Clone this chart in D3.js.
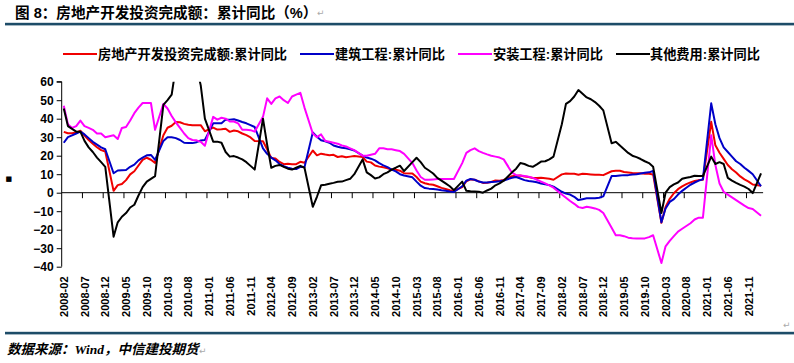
<!DOCTYPE html>
<html><head><meta charset="utf-8">
<script src="https://cdn.jsdelivr.net/npm/d3@7"></script>
<style>
html,body{margin:0;padding:0;background:#fff;}
svg{display:block;}
</style></head>
<body>
<svg id="chart" width="794" height="363"></svg>
<script>
// ---- data ----
const seriesNames = ["房地产开发投资完成额:累计同比","建筑工程:累计同比","安装工程:累计同比","其他费用:累计同比"];
const seriesColors = ["#f00000","#0000c8","#ff00ff","#000000"];
const yTicks = [60,50,40,30,20,10,0,-10,-20,-30,-40];
const tickLabels = ["2008-02","2008-07","2008-12","2009-05","2009-10","2010-03","2010-08","2011-01","2011-06","2011-11","2012-04","2012-09","2013-02","2013-07","2013-12","2014-05","2014-10","2015-03","2015-08","2016-01","2016-06","2016-11","2017-04","2017-09","2018-02","2018-07","2018-12","2019-05","2019-10","2020-03","2020-08","2021-01","2021-06","2021-11"];
// monthly categories 2008-02 .. 2022-02 (January has no release: null)
const categories = [];
for (let y = 2008; y <= 2022; y++) for (let m = 1; m <= 12; m++) {
  if ((y === 2008 && m < 2) || (y === 2022 && m > 2)) continue;
  categories.push(y + "-" + String(m).padStart(2, "0"));
}
const realEstate = [
 32.9,32.1,32.1,32.5,33.5,30.9,28.5,26.5,24.6,23.0,22.3,
 null,1.0,4.1,4.7,6.8,9.9,11.6,14.7,17.7,18.9,17.8,16.1,
 null,31.1,35.1,36.2,38.2,38.1,37.2,36.7,36.4,36.5,36.5,33.2,
 null,35.2,34.1,34.3,34.6,32.9,33.6,33.2,32.0,31.1,29.9,27.9,
 null,27.8,23.5,18.7,18.5,16.6,15.4,15.6,15.4,15.4,16.7,16.2,
 null,22.8,20.2,21.1,20.6,20.3,20.5,19.3,19.7,19.2,19.5,19.8,
 null,19.3,16.8,16.4,14.7,14.1,13.7,13.2,12.5,12.4,11.9,10.5,
 null,10.4,8.5,6.0,5.1,4.6,4.3,3.5,2.6,2.0,1.3,1.0,
 null,3.0,6.2,7.2,7.0,6.1,5.3,5.4,5.8,6.6,6.5,6.9,
 null,8.9,9.1,9.3,8.8,8.5,7.9,7.9,8.1,7.8,7.5,7.0,
 null,9.9,10.4,10.3,10.2,9.7,10.2,10.1,9.9,9.7,9.7,9.5,
 null,11.6,11.8,11.9,11.2,10.9,10.6,10.5,10.5,10.3,10.2,9.9,
 null,-16.3,-7.7,-3.3,-0.3,1.9,3.4,4.6,5.6,6.3,6.8,7.0,
 null,38.3,25.6,21.6,18.3,15.0,12.7,10.9,8.8,7.2,6.0,4.4,
 null,3.7];
const building = [
 27,30,31,32,33,31.5,29.5,27.5,26,24.5,23.5,
 null,10.5,12,12.2,12.3,14,15.2,17.5,19,20.2,20.4,17.7,
 null,28,30,30,29.5,28.5,27,26.8,26.8,27.3,28.2,28.5,
 null,37.5,37.5,37.5,39.5,39.5,39.7,39,38.2,37.5,36.5,35.5,
 null,24,21,19,17.5,15.5,14.3,13.5,13,12.8,14,13.7,
 null,32.6,30.3,28.3,27.8,27,25.5,24.8,24.3,24,23.5,22.8,
 null,20,19,18.4,17.5,16,14.8,13.8,12.5,11.5,10,9.3,
 null,8.3,6,3.8,2.5,2.2,2,1.7,1.3,1,0.6,0.4,
 null,3.5,6.5,7.4,7,6,5.5,5.5,5.8,5.9,6.2,6.6,
 null,8.1,8.5,7.7,6.8,6.3,6,5.6,5,4.5,4.1,3.3,
 null,0.5,-0.5,-1,-2.2,-4,-3.5,-3,-3,-3,-2.7,-2,
 null,9,9,9.3,9.5,9.5,9.8,10,10.4,10.8,11,11.7,
 null,-16,-8.5,-5,-3.5,-1,1,2.7,4.3,5.5,6.5,7.3,
 null,48.3,37,29.5,24.5,22,19.5,17,15.5,13.5,11.8,10,
 null,3.5];
const installation = [
 47,37,35,36,39,36,35,34,32,32,30,
 null,31,29,35,35.5,39,43,46,48.5,48.5,48.5,34,
 null,48,45.5,41.5,38,35,32,29.5,28.5,28.3,27.5,25.4,
 null,41,39.5,40.5,40,38.5,38.5,37.5,34,34,33.8,33,
 null,41,51,48,51,52,50,48.5,52,53,54,46,
 null,32,30,31.5,28,27.5,27,26.5,25.5,25,24,23,
 null,20,20,20.5,21,24,24,23.5,23.5,23,22.5,21,
 null,16,12,8.5,7,7,7.2,7.4,7.4,7.4,7.4,7.4,
 null,16,21.5,23,24,22.5,21.5,20.7,20,19.5,19,18,
 null,10.8,9.5,9.3,9,8.6,8,7,6,5,4,2.7,
 null,-1,-2.7,-4.5,-6,-7.8,-8.3,-7.6,-8,-8.5,-9.3,-11,
 null,-19,-23,-23,-23.5,-24.3,-24.6,-24.7,-24.7,-24.7,-24,-23,
 null,-38,-29,-26,-23.5,-21,-19.5,-18,-16.5,-14.5,-13.5,-13.5,
 null,31,15,5,0.5,-1,-2.5,-4,-5.5,-7,-8.3,-8.8,
 null,-12.5];
const otherCost = [
 45.5,36,34.5,33,33,28,24.5,22,19,16.5,14,
 null,-23.8,-16,-13,-11,-8,-6.5,-1.5,3,6,7.5,9,
 null,47.5,50,53,68,73,76,76,74,68,58,40,
 null,27.6,27.6,27,22,19.5,19.8,19,18,16.5,14.5,12.5,
 null,40,26,13.5,14.5,15,14,13,12.5,13.5,14.5,13.5,
 null,-7.6,-2.2,4,4.3,4.8,5.3,5.9,6,6.8,7.5,10,
 null,18,11,9.5,7.7,8.3,10,11,12.5,13.5,14.6,11.7,
 null,16.5,18.9,16.5,13.5,12,10.4,8,6.5,5,3.5,1.4,
 null,6,1,0.8,0.7,0.5,0,1.2,2.2,4,5,6.5,
 null,11,13,16,15.5,14.5,14,15.3,16.8,17,18,19.5,
 null,37,48,49.5,52,55.5,53.5,51.5,50.5,49,47,44.5,
 null,26.7,27.5,25.5,23.5,21.5,20,19.2,18.2,17,16,14,
 null,-11,0,3,4.5,5.5,7.5,8.1,8.5,9.2,9,9,
 null,19.5,15.5,16.5,15.5,8,6.5,5.3,4.2,3.3,2,-0.2,
 null,10.5];
const seriesValues = [realEstate, building, installation, otherCost];

// ---- drawing ----
const svg = d3.select("#chart");
const W = 794, H = 363;
const plot = {left: 61.7, right: 763.1, top: 81.7, bottom: 266.7};
const x = d3.scaleBand().domain(categories).range([plot.left, plot.right]).paddingInner(0).paddingOuter(0);
const y = d3.scaleLinear().domain([-40, 60]).range([plot.bottom, plot.top]);
const xc = c => x(c) + x.bandwidth() / 2;
const CJK = "'Liberation Sans','Noto Sans CJK SC',sans-serif";

svg.append("rect").attr("width", W).attr("height", H).attr("fill", "#fff");

// title
svg.append("text").attr("x", 15).attr("y", 17.5)
  .attr("font-family", CJK).attr("font-weight", "bold").attr("font-size", 14.6).attr("fill", "#000")
  .text("图 8：房地产开发投资完成额：累计同比（%）");
svg.append("text").attr("x", 317).attr("y", 16).attr("font-family", "DejaVu Sans")
  .attr("font-size", 9).attr("fill", "#aaa").text("↵");
svg.append("rect").attr("x", 5).attr("y", 22.8).attr("width", 789).attr("height", 2.6).attr("fill", "#1d4c68");

// legend
const legX = [{l: 63, t: 98}, {l: 300, t: 335}, {l: 458, t: 493}, {l: 616, t: 650}];
seriesNames.forEach((n, k) => {
  svg.append("line").attr("x1", legX[k].l).attr("x2", legX[k].l + 34).attr("y1", 54).attr("y2", 54)
    .attr("stroke", seriesColors[k]).attr("stroke-width", 2.2);
  svg.append("text").attr("x", legX[k].t).attr("y", 54).attr("dominant-baseline", "central")
    .attr("font-family", CJK).attr("font-weight", "bold").attr("font-size", 13.2).attr("fill", "#000").text(n);
});

// y axis
const yAxis = d3.axisLeft(y).tickValues(yTicks).tickSize(5).tickPadding(3).tickFormat(d3.format("d"));
const gy = svg.append("g").attr("transform", `translate(${plot.left},0)`).call(yAxis);
gy.select(".domain").attr("stroke", "#000").attr("d", `M0,${plot.top}V${plot.bottom}M-5,${plot.top}H0`);
gy.selectAll(".tick line").attr("stroke", "#000");
gy.selectAll(".tick text").attr("font-family", "'Liberation Sans',Arial,sans-serif")
  .attr("font-weight", "bold").attr("font-size", 12).attr("fill", "#000");

// x axis line at zero with ticks at category boundaries
svg.append("line").attr("x1", plot.left).attr("x2", plot.right).attr("y1", y(0)).attr("y2", y(0))
  .attr("stroke", "#000").attr("stroke-width", 1);
tickLabels.forEach((t, k) => {
  if (k > 0) svg.append("line").attr("x1", x(t)).attr("x2", x(t)).attr("y1", y(0)).attr("y2", y(0) + 5.5)
    .attr("stroke", "#000").attr("stroke-width", 1);
  svg.append("text").attr("transform", `translate(${xc(t)},276.5) rotate(-90)`)
    .attr("text-anchor", "end").attr("dominant-baseline", "central")
    .attr("font-family", "'Liberation Sans',Arial,sans-serif").attr("font-weight", "bold")
    .attr("font-size", 11).attr("fill", "#000").text(t);
});

// little marker left of axis
svg.append("text").attr("x", 5.5).attr("y", 181).attr("font-family", "DejaVu Sans")
  .attr("font-size", 7).attr("fill", "#000").text("■");

// clip
svg.append("clipPath").attr("id", "clip").append("rect")
  .attr("x", plot.left).attr("y", plot.top).attr("width", plot.right - plot.left + 2).attr("height", plot.bottom - plot.top);

const line = d3.line().x(d => xc(d.c)).y(d => y(d.v));
const gl = svg.append("g").attr("clip-path", "url(#clip)");
seriesValues.forEach((vals, k) => {
  const pts = vals.map((v, i) => ({c: categories[i], v})).filter(d => d.v != null);
  gl.append("path").datum(pts).attr("d", line).attr("fill", "none")
    .attr("stroke", seriesColors[k]).attr("stroke-width", 2).attr("stroke-linejoin", "round");
});

// bottom rule and source
svg.append("text").attr("x", 783).attr("y", 328).attr("font-family", "DejaVu Sans")
  .attr("font-size", 9).attr("fill", "#aaa").text("↵");
svg.append("rect").attr("x", 5).attr("y", 331.8).attr("width", 789).attr("height", 2.6).attr("fill", "#1d4c68");
svg.append("text").attr("x", 7).attr("y", 354).attr("font-family", "'Liberation Serif','Noto Sans CJK SC',serif")
  .attr("font-style", "italic").attr("font-weight", "bold").attr("font-size", 13.5).attr("fill", "#000")
  .text("数据来源：Wind，中信建投期货");
svg.append("text").attr("x", 199).attr("y", 354).attr("font-family", "DejaVu Sans")
  .attr("font-size", 9).attr("fill", "#aaa").text("↵");
</script>
</body></html>
